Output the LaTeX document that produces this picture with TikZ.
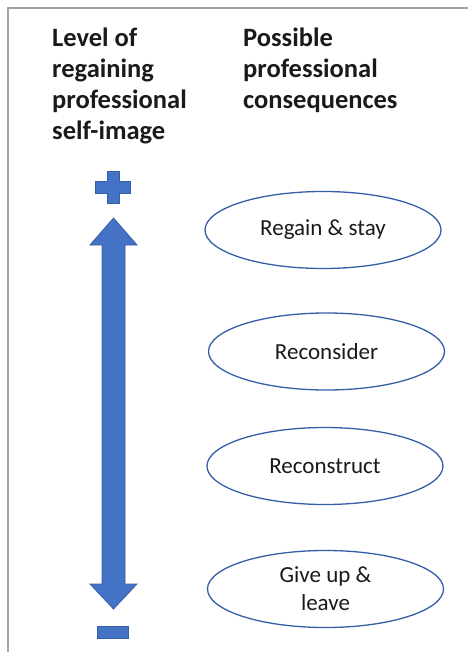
\documentclass[tikz,border=0pt]{standalone}
\usepackage{fontspec}
\setmainfont{Carlito}
\usetikzlibrary{shapes.geometric}
\definecolor{frame}{HTML}{A3A3A3}
\definecolor{blueFill}{HTML}{4472C4}
\definecolor{blueEdge}{HTML}{365EA8}
\definecolor{ink}{HTML}{1A1A1A}
\tikzset{
  heading/.style={anchor=base west, align=left, inner sep=0pt, text=ink,
    font=\fontsize{26.5}{31}\selectfont\bfseries},
  outcome/.style={ellipse, draw=blueEdge, line width=1.3pt, fill=white,
    minimum width=236pt, minimum height=77pt, inner sep=0pt, align=center,
    text=ink, font=\fontsize{23}{28}\selectfont},
  solidblue/.style={fill=blueFill, draw=blueEdge, line width=0.8pt, line join=miter},
}
\begin{document}
\begin{tikzpicture}[x=1pt, y=-1pt]
\useasboundingbox (0,0) rectangle (468,652);
% frame edges
\draw[frame, line width=2pt] (8,652) -- (8,8) -- (468,8);

% column headings (anchored at the baseline of their last line)
\node[heading] (levelhead) at (52,140) {Level of\\regaining\\professional\\self-image};
\node[heading] (conshead) at (243,108.5) {Possible\\professional\\consequences};

% plus sign
\fill[solidblue] (107,171.5) -- (119,171.5) -- (119,181.5) -- (130.5,181.5) -- (130.5,193.5)
  -- (119,193.5) -- (119,203.5) -- (107,203.5) -- (107,193.5) -- (95.5,193.5)
  -- (95.5,181.5) -- (107,181.5) -- cycle;

% double-headed scale arrow
\fill[solidblue] (113.5,218) -- (137,245) -- (125,245) -- (125,584) -- (137,584)
  -- (113.5,609) -- (90,584) -- (102,584) -- (102,245) -- (90,245) -- cycle;

% minus sign
\fill[solidblue] (97.5,626) rectangle (128.5,638);

% consequences
\node[outcome] (stay) at (323,230) {Regain \& stay};
\node[outcome] (reconsider) at (326.5,351.5) {Reconsider};
\node[outcome] (reconstruct) at (325,466) {Reconstruct};
\node[outcome] (leave) at (325.5,589) {Give up \&\\leave};
\end{tikzpicture}
\end{document}
